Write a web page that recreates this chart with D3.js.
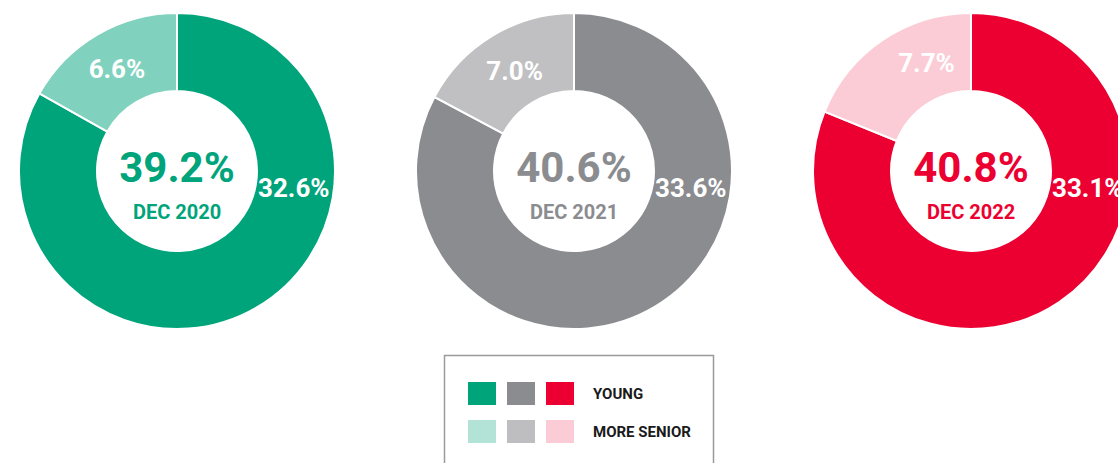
<!DOCTYPE html>
<html>
<head>
<meta charset="utf-8">
<script src="https://cdn.jsdelivr.net/npm/d3@7"></script>
<style>
  body { margin: 0; background: #fff; }
  svg { display: block; font-family: Roboto, "Noto Sans", sans-serif; }
</style>
</head>
<body>
<svg id="chart" width="1118" height="463"></svg>
<script>
// data
var periods = ["DEC 2020", "DEC 2021", "DEC 2022"];
var young = [32.6, 33.6, 33.1];
var senior = [6.6, 7.0, 7.7];
var totals = [39.2, 40.6, 40.8];
var groups = ["YOUNG", "MORE SENIOR"];

// colours per period: [young, more senior]
var ringColors = [["#00a47b", "#80d2be"], ["#8b8c90", "#c0c0c2"], ["#eb0031", "#fbccd6"]];
var legendColors = [["#00a47b", "#b3e3d6"], ["#8b8c90", "#bebec0"], ["#eb0031", "#fbccd6"]];
var seniorNudge = [[0, 0], [2, 2], [22, -10]];

var svg = d3.select("#chart"),
    outerR = 158,
    innerR = 80,
    cy = 171;

var x = d3.scalePoint()
    .domain(periods)
    .range([177, 971]);

var pie = d3.pie().sort(null).value(function(d) { return d.value; });
var arc = d3.arc().innerRadius(innerR).outerRadius(outerR);
var fmt = d3.format(".1f");

periods.forEach(function(p, i) {
  var g = svg.append("g").attr("transform", "translate(" + x(p) + "," + cy + ")");
  var slices = pie([
    {key: groups[0], value: young[i], idx: 0},
    {key: groups[1], value: senior[i], idx: 1}
  ]);

  g.selectAll("path")
    .data(slices)
    .enter().append("path")
      .attr("d", arc)
      .attr("fill", function(d) { return ringColors[i][d.data.idx]; })
      .attr("stroke", "#fff")
      .attr("stroke-width", 2);

  // senior label at slice centroid
  var c = arc.centroid(slices[1]);
  g.append("text")
      .attr("x", c[0] + seniorNudge[i][0])
      .attr("y", c[1] + seniorNudge[i][1])
      .attr("dy", "0.36em")
      .attr("text-anchor", "middle")
      .attr("fill", "#fff")
      .attr("font-size", 26)
      .attr("font-weight", 700)
      .text(fmt(senior[i]) + "%");

  // young label just right of the hole
  g.append("text")
      .attr("x", innerR + 1)
      .attr("y", 26)
      .attr("fill", "#fff")
      .attr("font-size", 26)
      .attr("font-weight", 700)
      .text(fmt(young[i]) + "%");

  // centre
  g.append("text")
      .attr("y", 11)
      .attr("text-anchor", "middle")
      .attr("fill", ringColors[i][0])
      .attr("font-size", 42)
      .attr("font-weight", 700)
      .text(fmt(totals[i]) + "%");
  g.append("text")
      .attr("y", 48)
      .attr("text-anchor", "middle")
      .attr("fill", ringColors[i][0])
      .attr("font-size", 20)
      .attr("font-weight", 700)
      .text(p);
});

// legend
var legend = svg.append("g").attr("transform", "translate(444,355)");
legend.append("rect")
    .attr("x", 0.5)
    .attr("y", 0.5)
    .attr("width", 269)
    .attr("height", 130)
    .attr("fill", "#fff")
    .attr("stroke", "#9a9a9a")
    .attr("stroke-width", 1.5);

var row = legend.selectAll(".row")
  .data(groups)
  .enter().append("g")
    .attr("class", "row")
    .attr("transform", function(d, j) { return "translate(0," + (27 + j * 38) + ")"; });

row.selectAll("rect")
  .data(function(d, j) { return periods.map(function(p, i) { return legendColors[i][j]; }); })
  .enter().append("rect")
    .attr("x", function(d, i) { return 24 + i * 39; })
    .attr("width", 28)
    .attr("height", 23)
    .attr("fill", function(d) { return d; });

row.append("text")
    .attr("x", 149)
    .attr("y", 11.5)
    .attr("dy", "0.36em")
    .attr("fill", "#1a1a1a")
    .attr("font-size", 15)
    .attr("font-weight", 700)
    .text(function(d) { return d; });
</script>
</body>
</html>
